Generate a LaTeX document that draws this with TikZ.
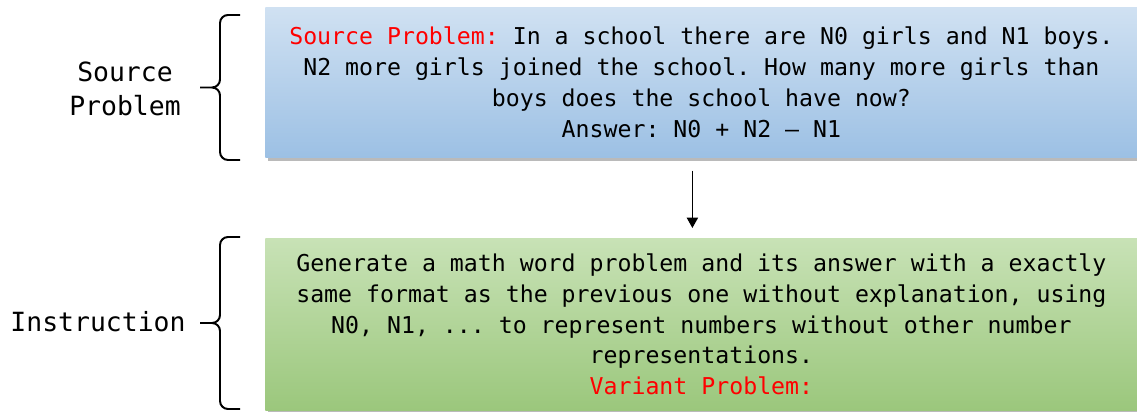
\documentclass[tikz,border=0pt]{standalone}
\usepackage{fontspec}
\setmonofont{DejaVu Sans Mono}
\usetikzlibrary{arrows.meta,positioning,shadows,calc}

\definecolor{srctop}{RGB}{208,225,242}
\definecolor{srcbot}{RGB}{156,192,228}
\definecolor{insttop}{RGB}{200,226,182}
\definecolor{instbot}{RGB}{155,199,124}
\definecolor{hl}{RGB}{255,0,0}

\begin{document}
\begin{tikzpicture}[
    x=0.025cm, y=-0.025cm,
    every node/.style={font=\ttfamily\fontsize{16.5}{22}\selectfont},
    box/.style={anchor=north west, align=center, inner sep=0pt, minimum width=21.8cm,
        drop shadow={shadow xshift=0.06cm, shadow yshift=-0.1cm, fill=black!60, opacity=0.45}},
    srcbox/.style={box, minimum height=3.75cm, top color=srctop, bottom color=srcbot},
    instbox/.style={box, minimum height=4.3cm, top color=insttop, bottom color=instbot},
    side/.style={align=center, font=\ttfamily\fontsize{18.8}{24.5}\selectfont},
    curly/.style={line width=1.4pt, rounded corners=0.2cm,
        to path={(\tikztostart) -- ++(-20,0) |- ($(\tikztostart)!0.5!(\tikztotarget)+(-40,0)$)
                 (\tikztotarget) -- ++(-20,0) |- ($(\tikztostart)!0.5!(\tikztotarget)+(-40,0)$)}},
    flow/.style={-{Triangle[length=2.6mm, width=2.8mm]}, line width=1.1pt}
]
\useasboundingbox (0,0) rectangle (1137,412);
\node[srcbox] (src) at (265,7) {\textcolor{hl}{Source Problem:} In a school there are N0 girls and N1 boys.\\
    N2 more girls joined the school. How many more girls than\\
    boys does the school have now?\\
    Answer: N0 + N2 – N1};
\node[instbox] (inst) at (265,238) {Generate a math word problem and its answer with a exactly\\
    same format as the previous one without explanation, using\\
    N0, N1, ... to represent numbers without other number\\
    representations.\\
    \textcolor{hl}{Variant Problem:}};
% braces on the left
\coordinate (srctop) at (240,15);
\coordinate (srcbot) at (240,160);
\coordinate (insttop) at (240,237);
\coordinate (instbot) at (240,409);
\draw[curly] (srctop) to (srcbot);
\draw[curly] (insttop) to (instbot);
\node[side] (srclab) at (125,89) {Source\\Problem};
\node[side] (instlab) at (98,322) {Instruction};
\draw[flow] ([xshift=-0.225cm, yshift=-0.325cm]src.south) -- ([xshift=-0.225cm, yshift=0.25cm]inst.north);
\end{tikzpicture}
\end{document}
